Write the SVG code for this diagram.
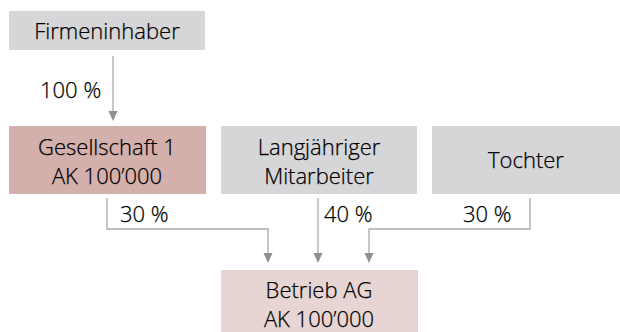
<svg xmlns="http://www.w3.org/2000/svg" width="620" height="332" viewBox="0 0 620 332">
<defs>
<style>
.t{font-family:"Open Sans","Noto Sans",sans-serif;font-weight:300;font-size:22px;fill:#000;stroke:#000;stroke-width:0.25;text-anchor:middle}
.l{font-family:"Open Sans","Noto Sans",sans-serif;font-weight:300;font-size:22px;fill:#000;stroke:#000;stroke-width:0.25}
.g{fill:#d6d6d8}
.c{fill:none;stroke:#a9a9ac;stroke-width:1.3}
.h{fill:#8f8f92}
</style>
</defs>
<rect width="620" height="332" fill="#ffffff"/>
<g id="firmeninhaber"><rect class="g" x="9" y="11" width="196" height="39"/><text class="t" x="107" y="39">Firmeninhaber</text></g>
<g id="gesellschaft1"><rect x="9" y="126" width="197" height="68" fill="#d4b0ac"/><text class="t" x="107" y="155">Gesellschaft 1</text><text class="t" x="107" y="184">AK 100’000</text></g>
<g id="mitarbeiter"><rect class="g" x="221" y="126" width="196" height="68"/><text class="t" x="319" y="155">Langjähriger</text><text class="t" x="319" y="184">Mitarbeiter</text></g>
<g id="tochter"><rect class="g" x="432" y="126" width="188" height="68"/><text class="t" x="526" y="168">Tochter</text></g>
<g id="betrieb"><rect x="221" y="270" width="197" height="62" fill="#e6d5d2"/><text class="t" x="319" y="298">Betrieb AG</text><text class="t" x="319" y="327">AK 100’000</text></g>
<g id="connectors">
<path class="c" d="M113 56V112"/><path class="h" d="M108.5 111H117.5L113 121Z"/>
<path class="c" d="M107 198V229H268V254"/><path class="h" d="M263.5 253H272.5L268 263Z"/>
<path class="c" d="M318 198V254"/><path class="h" d="M313.5 253H322.5L318 263Z"/>
<path class="c" d="M530 198V229H369V254"/><path class="h" d="M364.5 253H373.5L369 263Z"/>
<text class="l" x="40" y="98">100 %</text>
<text class="l" x="120" y="222">30 %</text>
<text class="l" x="324" y="222">40 %</text>
<text class="l" x="463" y="222">30 %</text>
</g>
</svg>
